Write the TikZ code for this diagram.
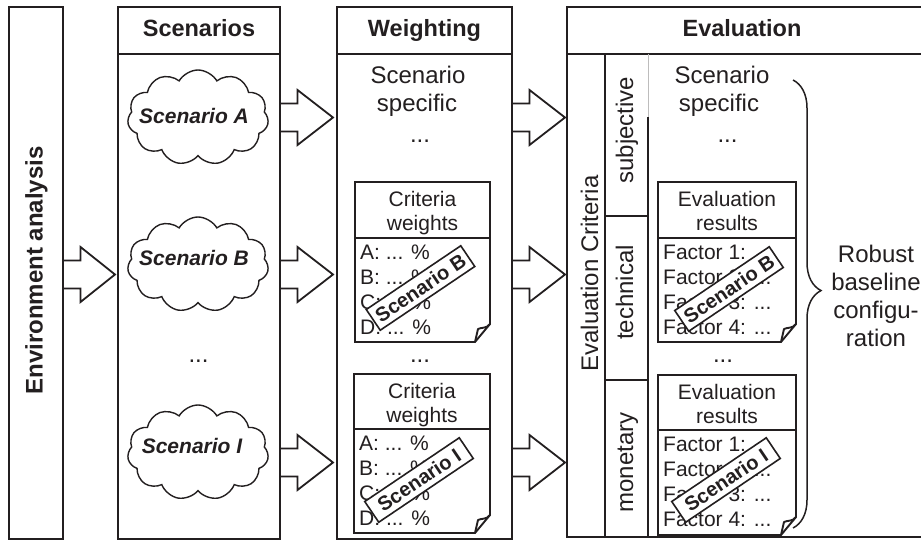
\documentclass[tikz,border=0pt]{standalone}
\usepackage{fontspec}
\setmainfont{Liberation Sans}
\usetikzlibrary{shapes.symbols,decorations.pathreplacing,calc}
\definecolor{ink}{RGB}{35,31,32}
\newcommand\sz[1]{\fontsize{#1}{#1}\selectfont}

% block arrow from a tail point to a tip point on the same height
\newcommand\fatarrow[2]{%
  \draw[fatline] let \p1=(#1), \p2=(#2) in
    (\x1,\y1+14pt) -- (\x1+17.5pt,\y1+14pt) -- (\x1+17.5pt,\y1+27.5pt)
    -- (\x2,\y1) -- (\x1+17.5pt,\y1-27.5pt) -- (\x1+17.5pt,\y1-14pt) -- (\x1,\y1-14pt);}

% sheet with a two-line heading, a rule and a turned-down corner
% #1 name, #2 left, #3 top, #4 right, #5 rule, #6 bottom, #7/#8 heading lines
\newcommand\sheet[8]{%
  \draw[sheetline] (#2,#3) -- (#4,#3) -- (#4,#6-18) -- (#4-15,#6) -- (#2,#6) -- cycle;
  \draw[sheetline] (#2,#5) -- (#4,#5);
  \draw[sheetline,line join=round] (#4,#6-18) .. controls (#4-4,#6-13) and (#4-8,#6-15) .. (#4-12,#6-13) -- (#4-15,#6);
  \node[small] (#1-h1) at ({(#2+#4)/2},#3+24.5) {#7};
  \node[small] (#1-h2) at ({(#2+#4)/2},#3+48) {#8};}

% four entry lines below the rule of a sheet: #1 name, #2 left, #3 rule, #4..#7 lines
\newcommand\entries[7]{%
  \node[smallleft] (#1-e1) at (#2+5,#3+21) {#4};
  \node[smallleft] (#1-e2) at (#2+5,#3+46.3) {#5};
  \node[smallleft] (#1-e3) at (#2+5,#3+71.6) {#6};
  \node[smallleft] (#1-e4) at (#2+5,#3+96.9) {#7};}

\begin{document}
\begin{tikzpicture}[x=1pt,y=-1pt,
  frame/.style={draw=ink,line width=2.6pt,inner sep=0pt,outer sep=0pt,anchor=north west},
  hrule/.style={draw=ink,line width=2.6pt},
  fine/.style={draw=ink,line width=1.2pt},
  fatline/.style={draw=ink,line width=1.8pt,line join=miter},
  sheetline/.style={draw=ink,line width=1.9pt},
  title/.style={font=\sz{23.5}\bfseries,text=ink,inner sep=0pt,anchor=base},
  big/.style={font=\sz{24},text=ink,inner sep=0pt,anchor=base},
  small/.style={font=\sz{21},text=ink,inner sep=0pt,anchor=base},
  smallleft/.style={small,anchor=base west},
  puff/.style={cloud,cloud puffs=11,cloud puff arc=120,cloud ignores aspect,draw=ink,line width=1.4pt,minimum width=141pt,minimum height=95pt,inner sep=0pt},
  cloudtext/.style={font=\sz{21}\bfseries\itshape,text=ink,inner sep=0pt,anchor=base},
  stamp/.style={draw=ink,line width=1.6pt,fill=white,rotate=34,font=\sz{20}\bfseries,text=ink,inner sep=0pt,minimum width=114pt,minimum height=25pt},
  bracket/.style={draw=ink,line width=1.5pt,decorate,decoration={brace,amplitude=28pt,aspect=0.47}},
]
\useasboundingbox (0,0) rectangle (921,543);
\fill[white] (0,0) rectangle (921,543);

% heights of the arrow rows and of the heading rule
\coordinate (rowA) at (0,117.5);
\coordinate (rowB) at (0,274.5);
\coordinate (rowI) at (0,462.5);
\coordinate (hdr) at (0,54);

% columns
\node[frame,minimum width=54pt,minimum height=532pt] (env) at (9,7) {};
\node[frame,minimum width=162pt,minimum height=532pt] (scen) at (118,7) {};
\node[frame,minimum width=175pt,minimum height=532pt] (weight) at (337,7) {};
\node[frame,minimum width=380pt,minimum height=530pt] (eval) at (567,7) {};
\draw[hrule] (scen.west |- hdr) -- (scen.east |- hdr);
\draw[hrule] (weight.west |- hdr) -- (weight.east |- hdr);
\draw[hrule] (eval.west |- hdr) -- (eval.east |- hdr);

\node[title] (scenT) at (199,37) {Scenarios};
\node[title] (weightT) at (424.5,37) {Weighting};
\node[title] (evalT) at (742,37) {Evaluation};
\node[title,font=\sz{24}\bfseries,rotate=90] (envT) at (42.5,270.5) {Environment analysis};

% scenarios
\node[puff] (cA) at (198,117.5) {};
\node[puff] (cB) at (198,264.5) {};
\node[puff] (cI) at (198,452.5) {};
\node[cloudtext] (tA) at (194,123) {Scenario A};
\node[cloudtext] (tB) at (194,265) {Scenario B};
\node[cloudtext] (tI) at (192,453) {Scenario I};
\node[big] (sdots) at (198.5,362) {...};

% arrows between the columns
\fatarrow{env.east |- rowB}{$(scen.west |- rowB)+(-3,0)$}
\fatarrow{scen.east |- rowA}{$(weight.west |- rowA)+(-4,0)$}
\fatarrow{scen.east |- rowB}{$(weight.west |- rowB)+(-4,0)$}
\fatarrow{scen.east |- rowI}{$(weight.west |- rowI)+(-4,0)$}
\fatarrow{weight.east |- rowA}{$(eval.west |- rowA)+(-2,0)$}
\fatarrow{weight.east |- rowB}{$(eval.west |- rowB)+(-2,0)$}
\fatarrow{weight.east |- rowI}{$(eval.west |- rowI)+(-2,0)$}

% weighting
\node[big] (wS1) at (418,83) {Scenario};
\node[big] (wS2) at (417,111.5) {specific};
\node[big] (wS3) at (420,142) {...};
\sheet{wB}{355}{182}{490}{238}{342}{Criteria}{weights}
\entries{wB}{355}{238}{A: ... \%}{B: ... \%}{C: ... \%}{D: ... \%}
\node[stamp] (wBs) at (420.5,288) {Scenario B};
\node[big] (wdots) at (420,362) {...};
\sheet{wI}{354}{374}{490}{429}{533}{Criteria}{weights}
\entries{wI}{354}{429}{A: ... \%}{B: ... \%}{C: ... \%}{D: ... \%}
\node[stamp] (wIs) at (419,480) {Scenario I};

% evaluation: criteria column
\draw[fine] (605,54) -- (605,537);
\draw[draw=ink!30,line width=1pt] (648,54) -- (648,117);
\draw[draw=ink,line width=2.2pt] (648,117) -- (648,537);
\draw[fine] (605,216) -- (648,216);
\draw[fine] (605,380) -- (648,380);
\node[big,rotate=90] (ecrit) at (598,273.5) {Evaluation Criteria};
\node[big,rotate=90] (subj) at (633,130) {subjective};
\node[big,rotate=90] (tech) at (633,292.5) {technical};
\node[big,rotate=90] (mon) at (633,462.5) {monetary};

% evaluation: results
\node[big] (eS1) at (722,83) {Scenario};
\node[big] (eS2) at (719,111.5) {specific};
\node[big] (eS3) at (727.5,142) {...};
\sheet{eB}{658}{182}{796}{238}{342}{Evaluation}{results}
\entries{eB}{658}{238}{Factor 1: ...}{Factor 2: ...}{Factor 3: ...}{Factor 4: ...}
\node[stamp] (eBs) at (729,289) {Scenario B};
\node[big] (edots) at (723,362) {...};
\sheet{eI}{658}{375}{796}{430}{535}{Evaluation}{results}
\entries{eI}{658}{430}{Factor 1: ...}{Factor 2: ...}{Factor 3: ...}{Factor 4: ...}
\node[stamp] (eIs) at (726,480) {Scenario I};

% result
\coordinate (brTop) at (793,80);
\coordinate (brBot) at (793,528);
\draw[bracket] (brTop) -- (brBot);
\node[big] (r1) at (876,262) {Robust};
\node[big] (r2) at (876,290) {baseline};
\node[big] (r3) at (876,318) {configu-};
\node[big] (r4) at (876,346) {ration};
\end{tikzpicture}
\end{document}
